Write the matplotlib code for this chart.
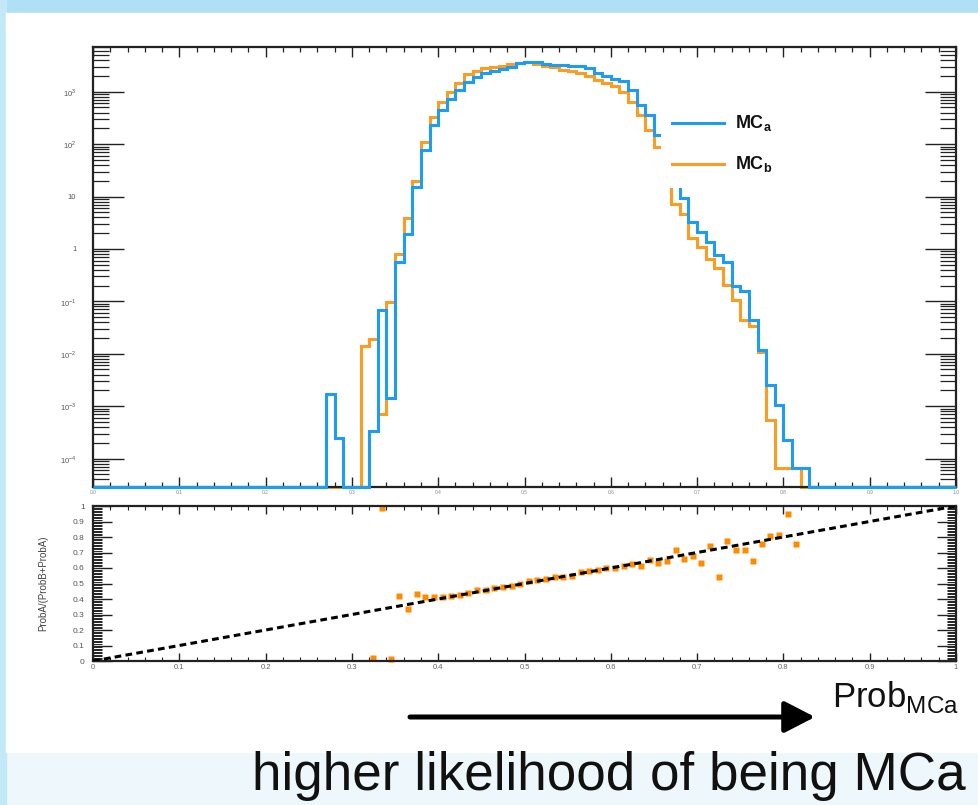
import numpy as np
import matplotlib
matplotlib.use("Agg")
import matplotlib.pyplot as plt
from matplotlib.patches import Rectangle
from matplotlib.ticker import MultipleLocator, LogLocator, FuncFormatter, NullFormatter

plt.rcParams['font.family'] = ['Liberation Sans', 'DejaVu Sans']
plt.rcParams['mathtext.fontset'] = 'custom'
plt.rcParams['mathtext.rm'] = 'Liberation Sans'
plt.rcParams['mathtext.bf'] = 'Liberation Sans:bold'

# histogram: 100 bins in [0, 1]
n_bins = 100
mc_a_first_bin = 27
mc_a_counts = [1.7e-3, 2.5e-4, 0, 0, 0, 3.4e-4, 0.068, 1.4e-3, 0.57, 1.9,
               15.4, 76, 231, 448, 710, 1097, 1552, 1941, 2245, 2450,
               2675, 3000, 3483, 3640, 3640, 3436, 3304, 3206, 3162, 3090,
               2797, 2323, 1995, 1746, 1567, 1064, 546, 352, 149, 50,
               20.6, 9.2, 3.3, 2.1, 1.37, 0.77, 0.56, 0.20, 0.156, 0.044,
               0.0118, 0.0025, 0.00105, 2.25e-4, 6.6e-5, 6.6e-5]
mc_b_first_bin = 31
mc_b_counts = [0.0142, 0.0191, 7.1e-4, 0.098, 0.80, 3.84, 19.8, 110, 322, 631,
               978, 1466, 2130, 2518, 2797, 2960, 3162, 3350, 3575, 3690,
               3420, 3090, 2897, 2630, 2450, 2245, 1995, 1650, 1466, 1285,
               978, 644, 352, 186, 89, 32, 7.2, 4.6, 1.6, 1.1,
               0.64, 0.43, 0.205, 0.106, 0.044, 0.034, 0.0108, 5.4e-4, 6.6e-5, 6.6e-5,
               6.6e-5]

# ratio panel points
ratio_x = [0.325, 0.335, 0.345, 0.355, 0.365, 0.375, 0.385, 0.395, 0.405, 0.415,
           0.425, 0.435, 0.445, 0.455, 0.465, 0.475, 0.485, 0.495, 0.505, 0.515,
           0.525, 0.535, 0.545, 0.555, 0.565, 0.575, 0.585, 0.595, 0.605, 0.615,
           0.625, 0.635, 0.645, 0.655, 0.665, 0.675, 0.685, 0.695, 0.705, 0.715,
           0.725, 0.735, 0.745, 0.755, 0.765, 0.775, 0.785, 0.795, 0.805, 0.815]
ratio_y = [0.017, 0.99, 0.012, 0.42, 0.335, 0.43, 0.41, 0.41, 0.41, 0.42,
           0.425, 0.44, 0.455, 0.46, 0.47, 0.478, 0.486, 0.494, 0.515, 0.52,
           0.528, 0.539, 0.545, 0.547, 0.573, 0.58, 0.586, 0.60, 0.597, 0.616,
           0.629, 0.61, 0.65, 0.631, 0.642, 0.715, 0.661, 0.678, 0.633, 0.745,
           0.539, 0.773, 0.715, 0.719, 0.642, 0.753, 0.809, 0.816, 0.947, 0.755]
diag_x = [0, 1]
diag_y = [0, 1]

edges = np.linspace(0, 1, n_bins + 1)
mc_a = np.zeros(n_bins)
mc_a[mc_a_first_bin:mc_a_first_bin + len(mc_a_counts)] = mc_a_counts
mc_b = np.zeros(n_bins)
mc_b[mc_b_first_bin:mc_b_first_bin + len(mc_b_counts)] = mc_b_counts

blue = '#1e9cf0'
orange = '#fb9d22'
ymin, ymax = 2.86e-5, 7130

W, H = 979, 805
fig = plt.figure(figsize=(W / 100, H / 100), dpi=100, facecolor='#edf7fc')

# slide background
fig.patches.append(Rectangle((0, 1 - 13 / H), 1, 13 / H, transform=fig.transFigure,
                             color='#afe0f5', zorder=-3))
fig.patches.append(Rectangle((0, 0), 6 / W, 1, transform=fig.transFigure,
                             color='#c3e8f8', zorder=-3))
fig.patches.append(Rectangle((6 / W, 1 - 752 / H), 1 - 6 / W, (752 - 13) / H,
                             transform=fig.transFigure, color='white', zorder=-2))

def fig_box(x0, y0, x1, y1):
    return [x0 / W, 1 - y1 / H, (x1 - x0) / W, (y1 - y0) / H]

ax1 = fig.add_axes(fig_box(93, 47, 956, 487))
ax2 = fig.add_axes(fig_box(93, 506, 956, 661))
for ax in (ax1, ax2):
    ax.set_facecolor('none')
    for s in ax.spines.values():
        s.set_linewidth(1.6)
        s.set_color('#222222')

# top panel
ax1.stairs(np.maximum(mc_b, ymin), edges, baseline=None, color=orange, lw=2.2,
           clip_on=False, zorder=2)
ax1.stairs(np.maximum(mc_a, ymin), edges, baseline=None, color=blue, lw=2.2,
           clip_on=False, zorder=3)
ax1.set_yscale('log')
ax1.set_ylim(ymin, ymax)
ax1.set_xlim(0, 1)
ax1.yaxis.set_major_locator(LogLocator(base=10, numticks=20))
ax1.yaxis.set_minor_locator(LogLocator(base=10, subs=np.arange(2, 10), numticks=20))
ax1.yaxis.set_minor_formatter(NullFormatter())

def log_label(v, pos):
    e = int(round(np.log10(v)))
    if e == 0:
        return '1'
    if e == 1:
        return '10'
    return r'$10^{%d}$' % e

ax1.yaxis.set_major_formatter(FuncFormatter(log_label))
ax1.xaxis.set_major_locator(MultipleLocator(0.1))
ax1.xaxis.set_minor_locator(MultipleLocator(0.02))
ax1.tick_params(axis='y', which='major', direction='in', length=22, width=1.0,
                left=True, right=True, labelsize=5.5, labelcolor='#555555', pad=12, color='#222222')
ax1.tick_params(axis='y', which='minor', direction='in', length=11.5, width=0.9,
                left=True, right=True, color='#222222')
ax1.tick_params(axis='x', which='major', direction='in', length=7, width=1.0,
                top=True, bottom=True, labelsize=3.5, labelcolor='#888888', pad=2, color='#222222')
ax1.tick_params(axis='x', which='minor', direction='in', length=3.6, width=0.9,
                top=True, bottom=True, color='#222222')

# legend (white box over the histogram)
ax1.add_patch(Rectangle((0.658, 0.680), 0.155, 0.211, transform=ax1.transAxes,
                        facecolor='white', edgecolor='none', zorder=5))
legend_rows = [(blue, r'$\mathbf{MC}_{\mathbf{a}}$', 0.827),
               (orange, r'$\mathbf{MC}_{\mathbf{b}}$', 0.734)]
for col, lab, yy in legend_rows:
    ax1.plot([0.671, 0.731], [yy, yy], color=col, lw=2.2, transform=ax1.transAxes, zorder=6)
    ax1.text(0.744, yy, lab, transform=ax1.transAxes, fontsize=13, color='#111111',
             va='center', ha='left', zorder=6)

# ratio panel
ax2.plot(ratio_x, ratio_y, 's', ms=3.8, color='#ff8c00', mec='none', clip_on=False, zorder=2)
ax2.plot(diag_x, diag_y, color='black', lw=2.2, dashes=(2.2, 1.4), zorder=3)
ax2.set_xlim(0, 1)
ax2.set_ylim(0, 1)
ax2.xaxis.set_major_locator(MultipleLocator(0.1))
ax2.xaxis.set_minor_locator(MultipleLocator(0.02))
ax2.yaxis.set_major_locator(MultipleLocator(0.1))
ax2.yaxis.set_minor_locator(MultipleLocator(0.01))
fmt = FuncFormatter(lambda v, p: '%g' % round(v, 2))
ax2.xaxis.set_major_formatter(fmt)
ax2.yaxis.set_major_formatter(fmt)
ax2.tick_params(axis='y', which='major', direction='in', length=13.5, width=1.0,
                left=True, right=True, labelsize=6, labelcolor='#555555', pad=6, color='#222222')
ax2.tick_params(axis='y', which='minor', direction='in', length=6.5, width=0.7,
                left=True, right=True, color='#222222')
ax2.tick_params(axis='x', which='major', direction='in', length=6, width=1.0,
                top=True, bottom=True, labelsize=5.5, labelcolor='#666666', pad=2, color='#222222')
ax2.tick_params(axis='x', which='minor', direction='in', length=3, width=0.8,
                top=True, bottom=True, color='#222222')
ax2.set_ylabel('ProbA/(ProbB+ProbA)', fontsize=7, color='#444444')
ax2.yaxis.set_label_coords((48 - 93) / 863, 0.5)

# axis annotation below the plots
fig.text(832 / W, 1 - 707 / H, r'Prob$_{\mathrm{MCa}}$', fontsize=25, color='#111111',
         ha='left', va='baseline')
ax2.annotate('', xy=(815, H - 717), xytext=(410, H - 717), xycoords='figure pixels',
             textcoords='figure pixels',
             arrowprops=dict(arrowstyle='-|>,head_length=0.62,head_width=0.32', lw=3.6,
                             color='black', mutation_scale=30, shrinkA=0, shrinkB=0))
fig.text(252 / W, 1 - 790 / H, 'higher likelihood of being MCa', fontsize=38.2,
         color='#111111', ha='left', va='baseline')

fig.savefig('out.png', dpi=100, facecolor=fig.get_facecolor())
